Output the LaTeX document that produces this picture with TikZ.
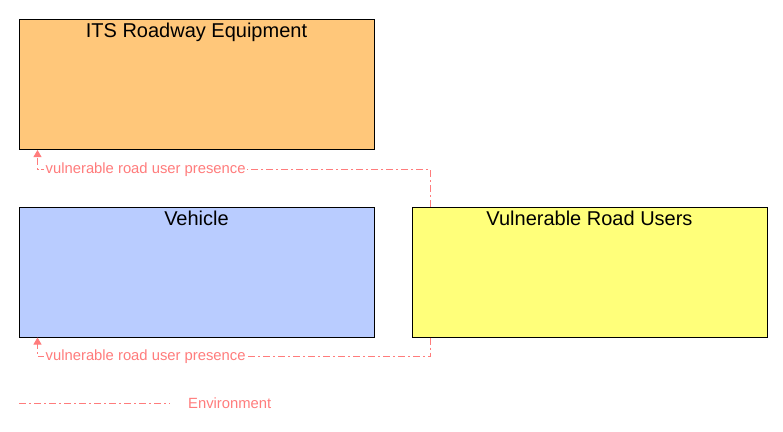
\documentclass[tikz,border=0pt]{standalone}
\usepackage{fontspec}
\setmainfont{Liberation Sans}
\usepackage{xcolor}
\usetikzlibrary{arrows.meta,positioning,calc}

\definecolor{rseorange}{RGB}{255,199,122}
\definecolor{vehblue}{RGB}{185,204,255}
\definecolor{vruyellow}{RGB}{255,255,122}
\definecolor{flowpink}{RGB}{255,124,124}

\tikzset{
  element/.style={draw=black, line width=1pt, minimum width=355pt, minimum height=130pt, inner sep=0pt},
  elemtitle/.style={anchor=north, inner sep=0pt, font=\fontsize{20}{24}\selectfont},
  envflow/.style={draw=flowpink, line width=0.8pt, dash pattern=on 7pt off 3pt on 2pt off 3pt},
  flowlabel/.style={fill=white, text=flowpink, inner sep=1.5pt, font=\fontsize{14.8}{17}\selectfont}
}

\begin{document}
\begin{tikzpicture}[x=1pt,y=-1pt]
        \useasboundingbox (0,0) rectangle (783,431);

        % Elements
        \node[element, fill=rseorange] (rse) at (196.5,84.5) {};
        \node[elemtitle, below=4pt of rse.north] (rsetitle) {ITS Roadway Equipment};

        \node[element, fill=vehblue] (veh) at (196.5,272) {};
        \node[elemtitle, below=4pt of veh.north] (vehtitle) {Vehicle};

        \node[element, fill=vruyellow] (vru) at (589.5,272) {};
        \node[elemtitle, below=4pt of vru.north] (vrutitle) {Vulnerable Road Users};

        % Flow 1: Vulnerable Road Users -> ITS Roadway Equipment
        \coordinate (vrutop) at ([xshift=19pt]vru.north west);
        \coordinate (rsein) at ([xshift=19pt]rse.south west);
        \draw[envflow, -{Triangle[length=7pt,width=8pt]}] (vrutop) |- ($(rsein)+(0,19)$) -- (rsein);
        \node[flowlabel, anchor=west] (flowa) at (44,170) {vulnerable road user presence};

        % Flow 2: Vulnerable Road Users -> Vehicle
        \coordinate (vrubot) at ([xshift=19pt]vru.south west);
        \coordinate (vehin) at ([xshift=19pt]veh.south west);
        \draw[envflow, -{Triangle[length=7pt,width=8pt]}] (vrubot) |- ($(vehin)+(0,19)$) -- (vehin);
        \node[flowlabel, anchor=west] (flowb) at (44,357) {vulnerable road user presence};

        % Legend
        \coordinate (legstart) at (19,403);
        \coordinate (legend) at (170,403);
        \draw[envflow] (legstart) -- (legend);
        \node[text=flowpink, anchor=west, inner sep=0pt, font=\fontsize{14.8}{17}\selectfont] (legtext) at (188,403) {Environment};

    \end{tikzpicture}
\end{document}
